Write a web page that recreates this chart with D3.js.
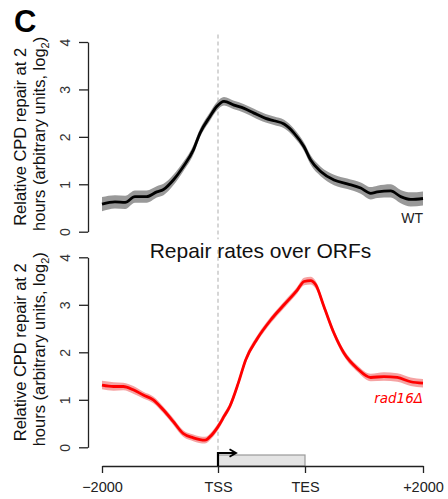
<!DOCTYPE html>
<html><head><meta charset="utf-8">
<script src="https://cdn.jsdelivr.net/npm/d3@7"></script>
<style>body{margin:0;background:#fff}</style>
</head><body>
<svg id="chart" width="448" height="499"></svg>
<script>
// Position units: -1 = -2000 bp, 0 = TSS, 1 = TES, 2 = +2000 bp (gene body scaled)
const xTickValues = [-1, 0, 1, 2];
const xTickLabels = ["\u22122000", "TSS", "TES", "+2000"];
const yTickValues = [0, 1, 2, 3, 4];

const wtPos  = [-1.0, -0.888, -0.80, -0.716, -0.615, -0.528, -0.47, -0.385, -0.30, -0.213, -0.155, -0.069, -0.011, 0.069, 0.184, 0.30, 0.414, 0.548, 0.644, 0.759, 0.874, 0.989, 1.048, 1.133, 1.246, 1.358, 1.472, 1.557, 1.613, 1.726, 1.811, 1.896, 2.0];
const wtMean = [0.58, 0.63, 0.62, 0.74, 0.74, 0.84, 0.89, 1.09, 1.37, 1.72, 2.08, 2.43, 2.64, 2.75, 2.67, 2.60, 2.50, 2.39, 2.34, 2.27, 2.08, 1.79, 1.51, 1.27, 1.09, 1.01, 0.92, 0.81, 0.84, 0.86, 0.74, 0.68, 0.70];
const wtErr  = [0.15, 0.14, 0.14, 0.13, 0.13, 0.12, 0.12, 0.11, 0.10, 0.10, 0.09, 0.09, 0.09, 0.09, 0.09, 0.09, 0.09, 0.09, 0.09, 0.09, 0.09, 0.09, 0.10, 0.10, 0.11, 0.11, 0.12, 0.13, 0.13, 0.14, 0.14, 0.15, 0.15];

const radPos  = [-1.0, -0.90, -0.816, -0.73, -0.644, -0.558, -0.472, -0.385, -0.30, -0.213, -0.112, -0.054, 0.023, 0.069, 0.138, 0.233, 0.318, 0.452, 0.606, 0.759, 0.911, 0.989, 1.048, 1.091, 1.161, 1.246, 1.331, 1.443, 1.557, 1.669, 1.782, 1.896, 2.0];
const radMean = [1.31, 1.28, 1.28, 1.21, 1.10, 1.00, 0.79, 0.54, 0.29, 0.20, 0.15, 0.26, 0.50, 0.65, 0.87, 1.35, 1.84, 2.29, 2.68, 3.00, 3.31, 3.49, 3.51, 3.42, 2.96, 2.40, 1.98, 1.66, 1.47, 1.49, 1.47, 1.38, 1.35];
const radErr  = [0.09, 0.09, 0.08, 0.08, 0.07, 0.07, 0.07, 0.07, 0.07, 0.07, 0.07, 0.07, 0.07, 0.07, 0.07, 0.07, 0.07, 0.07, 0.07, 0.07, 0.07, 0.08, 0.08, 0.08, 0.07, 0.07, 0.07, 0.07, 0.08, 0.09, 0.09, 0.09, 0.09];

const svg = d3.select("#chart");
const x = d3.scaleLinear().domain([-1, 0, 1, 2]).range([102, 218, 305, 423]);
const yTop = d3.scaleLinear().domain([0, 4]).range([231.7, 42]);
const yBot = d3.scaleLinear().domain([0, 4]).range([447.3, 257.3]);
const axisX = 88;
const sans = "'Liberation Sans', Arial, Helvetica, sans-serif";

function panel(y, pos, mean, err, lineColor, bandColor) {
  const ext = 0.16;
  svg.append("line")
    .attr("x1", x(0)).attr("x2", x(0))
    .attr("y1", y(4 + ext)).attr("y2", y(-ext))
    .attr("stroke", "#b5b5b5").attr("stroke-width", 1.1)
    .attr("stroke-dasharray", "4,3");
  const pts = pos.map((p, i) => ({p, m: mean[i], e: err[i]}));
  const area = d3.area().x(d => x(d.p)).y0(d => y(d.m - d.e)).y1(d => y(d.m + d.e)).curve(d3.curveMonotoneX);
  const line = d3.line().x(d => x(d.p)).y(d => y(d.m)).curve(d3.curveMonotoneX);
  svg.append("path").datum(pts).attr("d", area).attr("fill", bandColor);
  svg.append("path").datum(pts).attr("d", line).attr("fill", "none")
    .attr("stroke", lineColor).attr("stroke-width", 2.8).attr("stroke-linejoin", "round");
  const ax = svg.append("g").attr("transform", `translate(${axisX},0)`)
    .call(d3.axisLeft(y).tickValues(yTickValues).tickSize(9).tickSizeOuter(0).tickFormat(d3.format("d")));
  ax.select(".domain").attr("stroke", "#222").attr("stroke-width", 1.3);
  ax.selectAll(".tick line").attr("stroke", "#222").attr("stroke-width", 1.3);
  ax.selectAll(".tick text")
    .attr("x", null).attr("dy", null)
    .attr("transform", "translate(-18,0) rotate(-90)")
    .attr("text-anchor", "middle")
    .attr("font-family", sans).attr("font-size", 14).attr("fill", "#333");
  const cy = (y(0) + y(4)) / 2;
  const lab = svg.append("g").attr("font-family", sans).attr("font-size", 16.5).attr("fill", "#111");
  lab.append("text").attr("transform", `translate(26,${cy}) rotate(-90)`).attr("text-anchor", "middle")
    .text("Relative CPD repair at 2");
  const t2 = lab.append("text").attr("transform", `translate(45,${cy - 3}) rotate(-90)`).attr("text-anchor", "middle");
  t2.append("tspan").text("hours (arbitrary units, log");
  t2.append("tspan").attr("font-size", 11).attr("dy", 4).text("2");
  t2.append("tspan").attr("dy", -4).text(")");
}

panel(yTop, wtPos, wtMean, wtErr, "#000", "#999999");
panel(yBot, radPos, radMean, radErr, "#ff0000", "#f5a3a3");

const axisY = 466;
svg.append("rect")
  .attr("x", x(0)).attr("y", 455).attr("width", x(1) - x(0)).attr("height", axisY - 455)
  .attr("fill", "#e4e4e4").attr("stroke", "#9a9a9a").attr("stroke-width", 1.2);

const xa = svg.append("g").attr("transform", `translate(0,${axisY})`)
  .call(d3.axisBottom(x).tickValues(xTickValues).tickFormat((d, i) => xTickLabels[i]).tickSize(7).tickSizeOuter(0).tickPadding(9));
xa.select(".domain").attr("stroke", "#222").attr("stroke-width", 1.3);
xa.selectAll(".tick line").attr("stroke", "#222").attr("stroke-width", 1.3);
xa.selectAll(".tick text").attr("font-family", sans).attr("font-size", 14.5).attr("fill", "#222");

svg.append("defs").append("marker")
  .attr("id", "arr").attr("viewBox", "0 0 10 10").attr("refX", 8).attr("refY", 5)
  .attr("markerWidth", 4.2).attr("markerHeight", 4.2).attr("orient", "auto")
  .append("path").attr("d", "M1,1 L8,5 L1,9").attr("fill", "none").attr("stroke", "#000").attr("stroke-width", 2);
svg.append("path")
  .attr("d", `M${x(0)},${axisY} L${x(0)},453 L${x(0) + 18},453`)
  .attr("fill", "none").attr("stroke", "#000").attr("stroke-width", 2.2)
  .attr("marker-end", "url(#arr)");

svg.append("text").attr("x", 423).attr("y", 223).attr("text-anchor", "end")
  .attr("font-family", sans).attr("font-size", 14).attr("fill", "#222").text("WT");
svg.append("text").attr("x", 423).attr("y", 403).attr("text-anchor", "end")
  .attr("font-family", "'DejaVu Sans', sans-serif").attr("font-style", "italic")
  .attr("font-size", 13.5).attr("fill", "#ff0000").text("rad16\u0394");
svg.append("text").attr("x", 260.5).attr("y", 258).attr("text-anchor", "middle")
  .attr("font-family", sans).attr("font-size", 21).attr("fill", "#111").text("Repair rates over ORFs");
svg.append("text").attr("x", 14).attr("y", 32)
  .attr("font-family", sans).attr("font-size", 31).attr("font-weight", "bold").attr("fill", "#000").text("C");
</script>
</body></html>
